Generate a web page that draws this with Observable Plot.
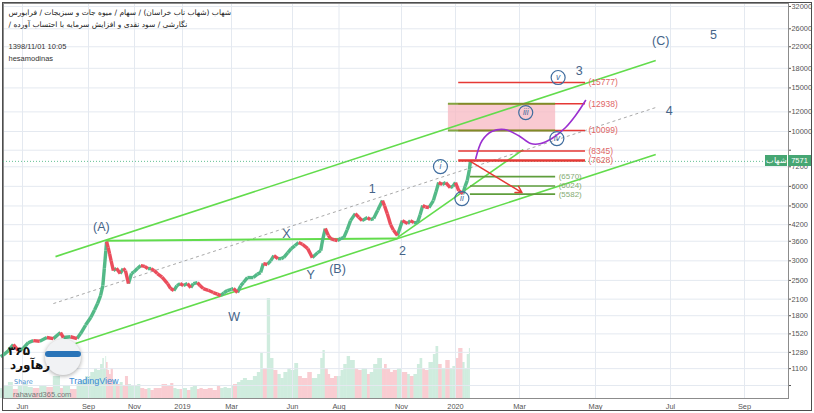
<!DOCTYPE html>
<html>
<head>
<meta charset="utf-8">
<script src="https://cdn.jsdelivr.net/npm/d3@7"></script>
<script src="https://cdn.jsdelivr.net/npm/@observablehq/plot@0.6"></script>
<style>
  html, body { margin:0; padding:0; background:#fff; }
  #wrap { position:relative; width:814px; height:413px; overflow:hidden; font-family:"Liberation Sans", Arial, sans-serif; background:#fff; }
  #wrap > svg { position:absolute; left:0; top:0; }
  .abs { position:absolute; }
  .border { left:2px; top:2px; width:810px; height:409px; border:1px solid #4d4d4d; box-sizing:border-box; pointer-events:none; }
  .pbox { height:11px; line-height:11px; font-size:7.5px; color:#fff; background:#46a673; text-align:center; }
</style>
</head>
<body>
<div id="wrap"></div>
<script>
// ---------- data ----------
const priceDates = [
  "2018-05-05","2018-05-12","2018-05-19","2018-05-26","2018-06-02","2018-06-09","2018-06-16","2018-06-25","2018-07-05","2018-07-14","2018-07-24","2018-07-28","2018-08-07","2018-08-16","2018-08-21","2018-08-28",
  "2018-09-04","2018-09-09","2018-09-13","2018-09-17","2018-09-20","2018-09-22","2018-09-24","2018-09-25","2018-09-27","2018-09-29",
  "2018-10-01","2018-10-04","2018-10-08","2018-10-13","2018-10-17","2018-10-20","2018-10-24","2018-10-28","2018-10-31",
  "2018-11-05","2018-11-09","2018-11-14","2018-11-18","2018-11-22","2018-11-26","2018-11-30",
  "2018-12-06","2018-12-13","2018-12-17","2018-12-21","2018-12-25","2018-12-29",
  "2019-01-02","2019-01-07","2019-01-11","2019-01-14","2019-01-19","2019-01-22","2019-01-26",
  "2019-02-01","2019-02-07","2019-02-12","2019-02-16","2019-02-20","2019-02-24",
  "2019-03-01","2019-03-04","2019-03-10","2019-03-15","2019-03-19","2019-03-25",
  "2019-04-03","2019-04-09","2019-04-14","2019-04-18","2019-04-24","2019-04-29",
  "2019-05-04","2019-05-10","2019-05-15","2019-05-19","2019-05-25","2019-05-30",
  "2019-06-04","2019-06-09","2019-06-14","2019-06-21","2019-06-27",
  "2019-07-04","2019-07-08","2019-07-11","2019-07-14","2019-07-18","2019-07-21","2019-07-26","2019-07-30",
  "2019-08-04","2019-08-08","2019-08-13","2019-08-18","2019-08-25","2019-08-30",
  "2019-09-04","2019-09-12","2019-09-16","2019-09-21","2019-09-27",
  "2019-10-04","2019-10-07","2019-10-11","2019-10-16","2019-10-20","2019-10-26",
  "2019-11-02","2019-11-08","2019-11-11","2019-11-15","2019-11-19","2019-11-22","2019-11-25","2019-11-28",
  "2019-12-02","2019-12-07","2019-12-10","2019-12-13","2019-12-17","2019-12-21","2019-12-26","2019-12-29",
  "2020-01-01","2020-01-04","2020-01-08","2020-01-10","2020-01-12","2020-01-14","2020-01-15"
];
const priceClose = [
  1250,1300,1377,1300,1327,1400,1428,1420,1469,1455,1539,1469,1480,1455,1525,1650,
  1770,1900,2015,2171,2383,2800,3300,3589,3400,3200,
  3000,2740,2800,2665,2791,2740,2428,2665,2700,
  2800,2870,2850,2791,2791,2740,2665,
  2580,2428,2318,2275,2383,2428,
  2383,2428,2339,2428,2451,2383,2318,
  2280,2233,2200,2171,2230,2275,
  2300,2318,2233,2380,2451,2567,
  2567,2650,2689,2924,2900,3000,
  3149,3062,3062,3100,3238,3361,
  3450,3556,3500,3361,3091,
  3238,3300,3700,4051,3800,3690,3650,3622,
  3700,3725,4000,4362,4657,4500,
  4362,4487,4400,4445,4800,
  5258,5000,4657,4200,4000,3800,
  4362,4241,4362,4281,4281,4600,5018,4950,
  4926,5258,5700,6215,6100,6215,5932,6000,
  6215,5769,5610,6000,6333,7000,7571
];
const firstOpen = 1230;
const volume = [
  10,12,16,9,12,14,11,10,13,11,22,10,12,9,14,18,
  22,26,30,28,34,40,30,42,36,28,
  24,30,18,14,16,12,22,14,12,
  12,14,10,9,10,8,10,
  10,14,12,15,10,9,
  9,10,8,11,12,9,10,
  9,10,8,12,10,11,
  10,12,14,16,18,20,
  18,22,26,45,30,100,
  40,28,24,20,26,30,
  28,35,22,20,26,
  20,24,40,48,30,24,20,22,
  22,28,34,42,38,30,
  28,30,24,26,34,
  40,30,34,30,26,28,
  30,26,24,22,24,34,40,30,
  28,36,44,52,34,30,38,30,
  32,40,50,36,30,44,50
];

const yTicks = [940,1100,1280,1520,1800,2100,2500,3000,3600,4200,5000,6000,7200,8400,10000,12000,15000,18000,22000,26000,32000];
const xTickDates = ["2018-06-01","2018-09-01","2018-11-01","2019-01-01","2019-03-01","2019-06-01","2019-08-01","2019-11-01","2020-01-01","2020-03-01","2020-05-01","2020-07-01","2020-09-01"];
const xTickLabels = ["Jun","Sep","Nov","2019","Mar","Jun","Aug","Nov","2020","Mar","May","Jul","Sep"];

const waveLabels = ["(A)","X","Y","(B)","W","1","2","(C)","5","3","4"];
const waveDates = ["2018-09-18","2019-05-23","2019-06-25","2019-07-30","2019-03-05","2019-09-19","2019-11-02","2020-06-23","2020-08-06","2020-04-18","2020-06-30"];
const wavePrices = [4125,3866,2641,2791,1786,5879,3299,23318,24657,17632,12151];

const circLabels = ["i","ii","iii","iv","v"];
const circDates = ["2019-12-15","2020-01-07","2020-03-06","2020-03-31","2020-04-01"];
const circPrices = [7213,5357,11927,9364,16522];

const redLevels = [15777,12938,10099,8345,7628];
const redSpan = ["2020-01-04","2020-04-23"];
const greenLevels = [6570,6024,5582];
const greenSpan = ["2020-01-15","2020-03-30"];
const boxDates = ["2019-12-24","2020-03-30"];
const boxPrices = [10099,12938];

const trendNames = ["upper","lower","mid","flatA","steep"];
const trendStart = ["2018-07-17","2018-08-14","2018-07-14","2018-09-24","2019-10-26"];
const trendStartPrice = [3120,1391,2015,3620,3725];
const trendEnd = ["2020-06-19","2020-06-19","2020-06-19","2019-10-26","2020-03-04"];
const trendEndPrice = [19350,8068,12496,3690,8452];

const arrowDates = ["2020-01-15","2020-03-03"];
const arrowPrices = [7571,5660];

const curveDates = ["2020-01-20","2020-01-26","2020-02-04","2020-02-16","2020-02-29","2020-03-10","2020-03-18","2020-03-27","2020-04-07","2020-04-15","2020-04-23"];
const curvePrices = [7771,9190,9993,10181,9627,8936,8936,9362,10372,11598,13337];

const lastPrice = 7571;
const symbol = "شهاب";
const header1 = "شهاب (شهاب ناب خراسان) / سهام / میوه جات و سبزیجات / فرابورس";
const header2 = "نگارشی / سود نقدی و افزایش سرمایه با احتساب آورده /";
const header3 = "1398/11/01 10:05";
const header4 = "hesamodinas";

// ---------- build ----------
const parse = d3.utcParse("%Y-%m-%d");
const green = "#53b987", red = "#eb4d5c", bright = "#62dc4c", labelBlue = "#456488";

const candles = priceDates.map((s, i) => ({
  prev: i ? parse(priceDates[i - 1]) : d3.utcDay.offset(parse(s), -4),
  date: parse(s),
  open: i ? priceClose[i - 1] : firstOpen,
  close: priceClose[i],
  vol: volume[i]
}));
const up = candles.filter(d => d.close >= d.open);
const down = candles.filter(d => d.close < d.open);

// trading-day style time axis (piecewise like the TradingView bar axis)
const xCfg = () => ({
  type: "utc",
  domain: ["2018-05-05","2018-06-01","2018-09-01","2018-11-01","2019-01-01","2019-03-01","2019-06-01","2019-08-01","2019-11-01","2020-01-01","2020-03-01","2020-05-01","2020-07-01","2020-09-01"].map(parse),
  range: [3,22,88,134,182,231,292,338.5,401,455,519,595,670,744]
});
const dims = {width: 814, height: 413, marginTop: 3, marginLeft: 3, marginRight: 26, marginBottom: 15};
const tickLabel = new Map(xTickDates.map((d, i) => [+parse(d), xTickLabels[i]]));

const waves = waveLabels.map((t, i) => ({t, d: parse(waveDates[i]), p: wavePrices[i]}));
const circs = circLabels.map((t, i) => ({t, d: parse(circDates[i]), p: circPrices[i]}));
const trends = trendNames.map((n, i) => ({n, x1: parse(trendStart[i]), y1: trendStartPrice[i], x2: parse(trendEnd[i]), y2: trendEndPrice[i]}));
const curve = curveDates.map((d, i) => ({d: parse(d), p: curvePrices[i]}));
const arrowData = [{x1: parse(arrowDates[0]), y1: arrowPrices[0], x2: parse(arrowDates[1]), y2: arrowPrices[1]}];

const volPlot = Plot.plot({
  ...dims,
  x: {...xCfg(), axis: null},
  y: {domain: [0, 100], range: [398, 298], axis: null},
  style: {background: "transparent"},
  marks: [
    Plot.rect(up, {x1: "prev", x2: "date", y1: 0, y2: "vol", fill: green, fillOpacity: 0.28}),
    Plot.rect(down, {x1: "prev", x2: "date", y1: 0, y2: "vol", fill: red, fillOpacity: 0.28})
  ]
});

const main = Plot.plot({
  ...dims,
  style: {background: "transparent", fontFamily: "'Liberation Sans', Arial, sans-serif", fontSize: "7.4px", color: "#555"},
  x: {...xCfg(), ticks: xTickDates.map(parse), tickFormat: d => tickLabel.get(+d), tickSize: 0, tickPadding: 5, label: null},
  y: {type: "log", domain: [833, 32906], range: [398, 3], axis: "right", ticks: yTicks, tickFormat: d => String(d), tickSize: 2, tickPadding: 1, label: null},
  marks: [
    Plot.ruleY(yTicks, {stroke: "#e4e9f0"}),
    Plot.ruleX(xTickDates.map(parse), {stroke: "#e4e9f0"}),
    Plot.frame({stroke: "#8c8c8c"}),
    // box
    Plot.rect([0], {x1: () => parse(boxDates[0]), x2: () => parse(boxDates[1]), y1: () => boxPrices[0], y2: () => boxPrices[1], fill: "#f7b8c2", fillOpacity: 0.75}),
    // trend lines
    Plot.link(trends.filter(d => d.n === "mid"), {x1: "x1", y1: "y1", x2: "x2", y2: "y2", stroke: "#a9a9a9", strokeDasharray: "3,3", strokeWidth: 1}),
    Plot.link(trends.filter(d => d.n !== "mid"), {x1: "x1", y1: "y1", x2: "x2", y2: "y2", stroke: bright, strokeWidth: d => d.n === "flatA" ? 2 : 1.6}),
    // price line
    Plot.ruleY([lastPrice], {stroke: green, strokeDasharray: "1,2", strokeOpacity: 0.9}),
    // candles
    Plot.link(up, {x1: "prev", y1: "open", x2: "date", y2: "close", stroke: green, strokeWidth: 3.4}),
    Plot.link(down, {x1: "prev", y1: "open", x2: "date", y2: "close", stroke: red, strokeWidth: 3.4}),
    // fib levels
    Plot.ruleY(redLevels, {x1: () => parse(redSpan[0]), x2: () => parse(redSpan[1]), stroke: "#e53935", strokeWidth: d => d === 7628 ? 2.6 : 1.5}),
    Plot.ruleY(boxPrices, {x1: () => parse(boxDates[0]), x2: () => parse(boxDates[1]), stroke: "#6f9a25", strokeWidth: 2, strokeOpacity: 0.85}),
    Plot.ruleY(greenLevels, {x1: () => parse(greenSpan[0]), x2: () => parse(greenSpan[1]), stroke: "#5f9e3c", strokeWidth: 1.6}),
    Plot.text(redLevels, {x: () => parse(redSpan[1]), y: d => d, text: d => `(${d})`, textAnchor: "start", dx: 3, fill: "#e06666", fontSize: 8.5}),
    Plot.text(greenLevels, {x: () => parse(greenSpan[1]), y: d => d, text: d => `(${d})`, textAnchor: "start", dx: 3, fill: "#86ac74", fontSize: 8}),
    // purple projection
    Plot.line(curve, {x: "d", y: "p", curve: "catmull-rom", stroke: "#9b30d0", strokeWidth: 1.6}),
    // red arrow
    Plot.arrow(arrowData, {x1: "x1", y1: "y1", x2: "x2", y2: "y2", stroke: "#e53935", strokeWidth: 1.5, headLength: 7}),
    // wave labels
    Plot.text(waves, {x: "d", y: "p", text: "t", fill: labelBlue, fontSize: 12.5}),
    Plot.dot(circs, {x: "d", y: "p", r: 7, stroke: "#3f6c9e", strokeWidth: 1.2, fill: "none"}),
    Plot.text(circs, {x: "d", y: "p", text: "t", fill: "#3f6c9e", fontSize: 8.5, fontStyle: "italic"}),
    // header
    Plot.text([header1], {frameAnchor: "top-left", dx: 5, dy: 9, lineAnchor: "middle", textAnchor: "start", text: d => "\u202B" + d + "\u202C", fontSize: 7.5, fill: "#222", fontFamily: "'DejaVu Sans', sans-serif"}),
    Plot.text([header2], {frameAnchor: "top-left", dx: 5, dy: 21, lineAnchor: "middle", textAnchor: "start", text: d => "\u202B" + d + "\u202C", fontSize: 7.5, fill: "#222", fontFamily: "'DejaVu Sans', sans-serif"}),
    Plot.text([header3], {frameAnchor: "top-left", dx: 5, dy: 43, lineAnchor: "middle", textAnchor: "start", fontSize: 7.5, fill: "#333"}),
    Plot.text([header4], {frameAnchor: "top-left", dx: 5, dy: 55, lineAnchor: "middle", textAnchor: "start", fontSize: 7.5, fill: "#333"})
  ]
});

const wrap = document.getElementById("wrap");
wrap.appendChild(volPlot);
wrap.appendChild(main);

// right-axis last price tags
const py = main.scale("y").apply(lastPrice);
const tag1 = document.createElement("div");
tag1.className = "abs pbox";
tag1.style.cssText += `left:765px;top:${py - 5.5}px;width:22px;`;
tag1.textContent = symbol;
const tag2 = document.createElement("div");
tag2.className = "abs pbox";
tag2.style.cssText += `left:788px;top:${py - 5.5}px;width:23px;`;
tag2.textContent = String(lastPrice);
wrap.appendChild(tag1);
wrap.appendChild(tag2);

// watermark
const wm = document.createElement("div");
wm.innerHTML = `
  <div class="abs" style="left:45px;top:339px;width:36px;height:36px;border-radius:50%;background:#f1f2f4;box-shadow:0 1px 4px rgba(0,0,0,0.35);"></div>
  <div class="abs" style="left:45px;top:351px;width:36px;height:6px;background:#2a74b8;border-radius:3px;"></div>
  <div class="abs" style="left:8px;top:344px;font:bold 12px 'DejaVu Sans',sans-serif;color:#111;">۳۶۵</div>
  <div class="abs" style="left:10px;top:358px;font:bold 12px 'DejaVu Sans',sans-serif;color:#111;direction:rtl;">رهآورد</div>
  <div class="abs" style="left:69px;top:376px;font:9px 'Liberation Sans',sans-serif;color:#3a8ad6;">TradingView</div>
  <div class="abs" style="left:14px;top:378px;font:6.5px 'DejaVu Sans',sans-serif;color:#4a8fcf;">Share</div>
  <div class="abs" style="left:13px;top:390px;font:7.5px 'Liberation Sans',sans-serif;color:#777;">rahavard365.com</div>
  <div class="abs border"></div>`;
wrap.appendChild(wm);
</script>
</body>
</html>
